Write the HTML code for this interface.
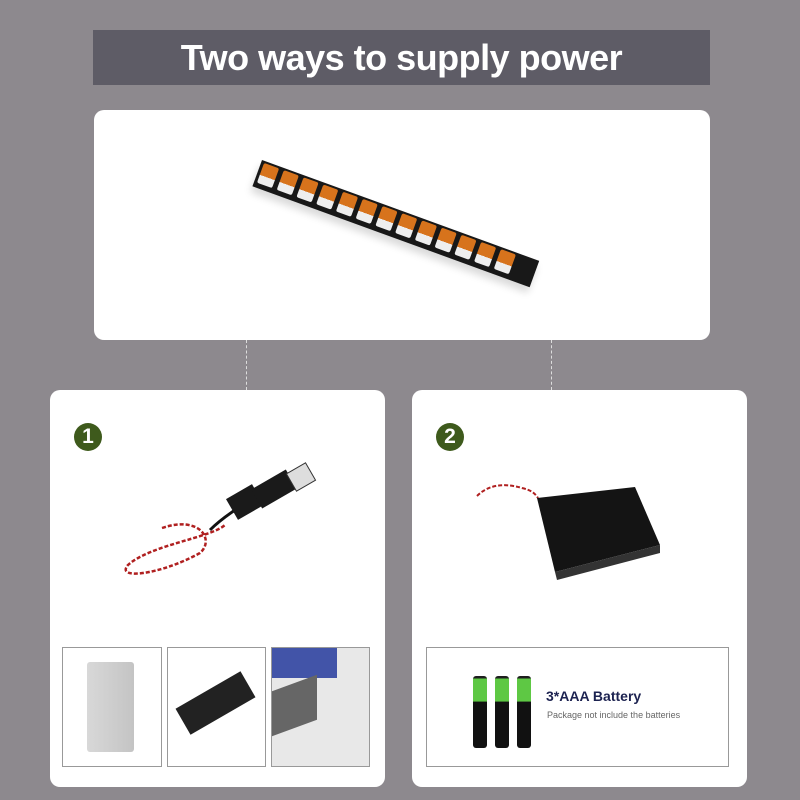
<!DOCTYPE html>
<html><head><style>
body{margin:0;width:800px;height:800px;background:#8d898e;position:relative;overflow:hidden;font-family:"Liberation Sans",sans-serif}
.a{position:absolute}
.card{background:#fff;border-radius:10px}
.num{width:28px;height:28px;border-radius:50%;background:#3e5a1c;color:#fff;font-weight:bold;font-size:21px;text-align:center;line-height:28px}
.box{border:1px solid #999;background:#fff}
.dash{border-left:1px dashed #ddd;width:0}
.led{display:inline-block;width:16px;height:21px;margin:2px 2px 0 3px;background:linear-gradient(#d7731c 0 60%,#eee 60%);border-radius:2px;vertical-align:top}
.bat{width:14px;height:72px;border-radius:3px;background:linear-gradient(#1e1e1e 0 2px,#5ec844 3px 35%,#111 36%)}
</style></head><body>
<div class="a" style="left:93px;top:30px;width:617px;height:55px;background:#5e5c66;color:#fff;font-size:36px;font-weight:bold;text-align:center;line-height:56px;letter-spacing:-0.5px">Two ways to supply power</div>
<div class="a card" style="left:94px;top:110px;width:616px;height:230px"></div>
<div class="a" style="left:262px;top:160px;width:295px;height:28px;background:#181818;transform-origin:0 0;transform:rotate(20deg);white-space:nowrap;box-shadow:0 6px 8px rgba(0,0,0,.15)"><span class="led"></span><span class="led"></span><span class="led"></span><span class="led"></span><span class="led"></span><span class="led"></span><span class="led"></span><span class="led"></span><span class="led"></span><span class="led"></span><span class="led"></span><span class="led"></span><span class="led"></span></div>
<div class="a dash" style="left:246px;top:340px;height:50px"></div>
<div class="a dash" style="left:551px;top:340px;height:50px"></div>
<div class="a card" style="left:50px;top:390px;width:335px;height:397px"></div>
<div class="a card" style="left:412px;top:390px;width:335px;height:397px"></div>
<div class="a num" style="left:74px;top:423px">1</div>
<div class="a num" style="left:436px;top:423px">2</div>
<svg class="a" style="left:50px;top:390px" width="335" height="250">
<path d="M112 138 C150 125 165 150 150 163 C110 185 65 190 78 175 C100 155 160 148 175 135" stroke="#b02020" stroke-width="2.5" fill="none" stroke-dasharray="4 2"/>
<path d="M160 140 C170 130 178 125 185 120" stroke="#111" stroke-width="3" fill="none"/>
<rect x="180" y="100" width="30" height="24" fill="#1a1a1a" transform="rotate(-30 195 112)"/>
<rect x="204" y="88" width="40" height="22" fill="#1a1a1a" transform="rotate(-30 224 99)"/>
<rect x="240" y="77" width="22" height="20" fill="#ddd" stroke="#333" transform="rotate(-30 251 87)"/>
</svg>
<svg class="a" style="left:412px;top:390px" width="335" height="250">
<path d="M65 106 C75 96 90 92 110 98 C118 100 122 102 126 108" stroke="#b02020" stroke-width="2" fill="none" stroke-dasharray="4 2"/>
<path d="M125 108 L223 97 L248 155 L143 182 Z" fill="#141414"/>
<path d="M143 182 L248 155 L248 163 L145 190 Z" fill="#333"/>
</svg>
<div class="a box" style="left:62px;top:647px;width:98px;height:118px"><div class="a" style="left:24px;top:14px;width:47px;height:90px;background:linear-gradient(90deg,#d8d8d8,#c4c4c4);border-radius:3px"></div></div>
<div class="a box" style="left:167px;top:647px;width:97px;height:118px;overflow:hidden"><div class="a" style="left:10px;top:40px;width:75px;height:30px;background:#222;transform:rotate(-30deg)"></div></div>
<div class="a box" style="left:271px;top:647px;width:97px;height:118px;overflow:hidden;background:#e8e8e8"><div class="a" style="left:0;top:0;width:65px;height:30px;background:#4254a8"></div><div class="a" style="left:0;top:35px;width:45px;height:45px;background:#666;transform:skewY(-20deg)"></div></div>
<div class="a box" style="left:426px;top:647px;width:301px;height:118px">
<div class="a bat" style="left:46px;top:28px"></div><div class="a bat" style="left:68px;top:28px"></div><div class="a bat" style="left:90px;top:28px"></div>
<div class="a" style="left:119px;top:40px;font-size:14px;font-weight:bold;color:#1c2250">3*AAA Battery</div>
<div class="a" style="left:120px;top:62px;font-size:9px;color:#666">Package not include the batteries</div>
</div>
</body></html>
